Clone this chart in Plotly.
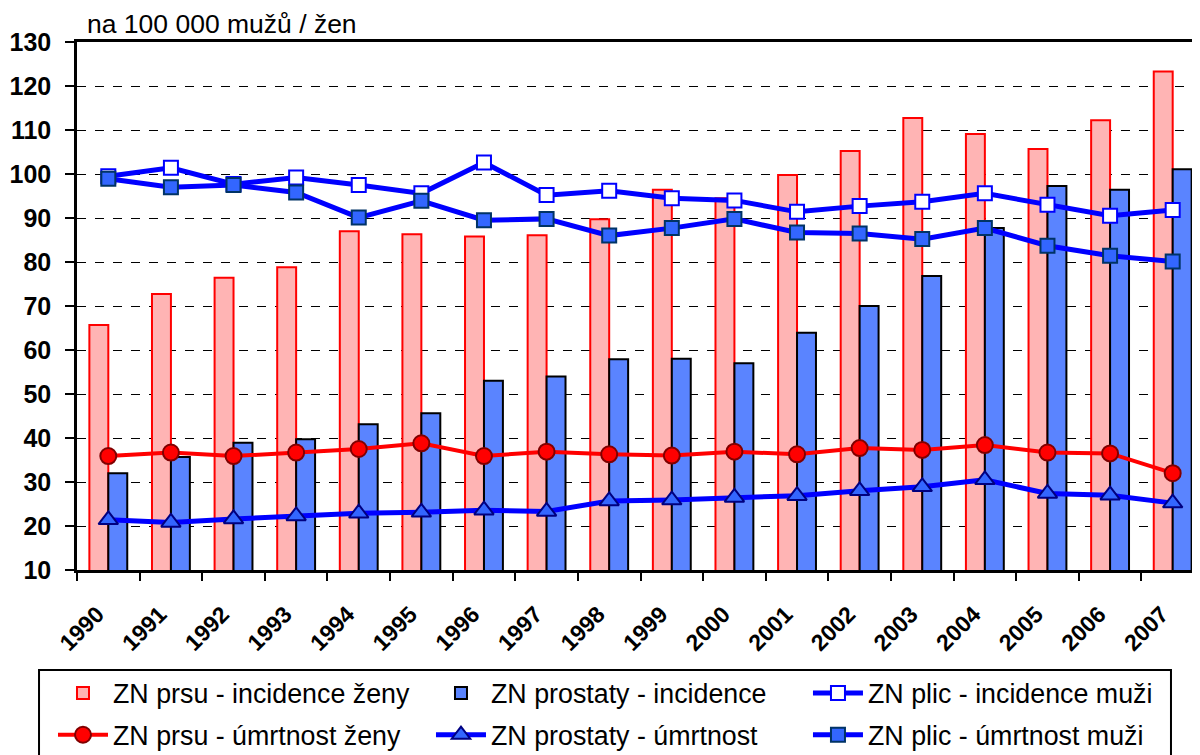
import plotly.graph_objects as go

years = [str(y) for y in range(1990, 2008)]
breast_inc = [65.7, 72.7, 76.4, 78.8, 87.0, 86.3, 85.8, 86.1, 89.7, 96.4, 94.5, 99.8, 105.2, 112.7, 109.1, 105.7, 112.2, 123.3]
prostate_inc = [32.0, 35.7, 38.9, 39.7, 43.1, 45.6, 53.0, 54.0, 57.9, 58.0, 57.0, 63.9, 70.0, 76.8, 87.7, 97.3, 96.4, 101.1]
lung_inc = [99.5, 101.4, 97.7, 99.2, 97.5, 95.6, 102.6, 95.2, 96.2, 94.5, 94.0, 91.4, 92.7, 93.7, 95.6, 93.0, 90.5, 91.8]
breast_mort = [35.9, 36.7, 35.9, 36.7, 37.5, 38.8, 35.9, 36.9, 36.3, 36.0, 36.9, 36.3, 37.7, 37.3, 38.4, 36.7, 36.5, 32.0]
prostate_mort = [21.4, 20.8, 21.6, 22.3, 22.9, 23.1, 23.6, 23.3, 25.7, 25.9, 26.5, 26.9, 28.0, 28.9, 30.5, 27.4, 27.0, 25.2]
lung_mort = [98.9, 97.0, 97.5, 95.8, 90.1, 93.9, 89.5, 89.8, 86.0, 87.7, 89.8, 86.7, 86.5, 85.2, 87.7, 83.7, 81.4, 80.1]
y_ticks = list(range(10, 131, 10))

names = ["ZN prsu - incidence ženy", "ZN prostaty - incidence", "ZN plic - incidence muži",
         "ZN prsu - úmrtnost ženy", "ZN prostaty - úmrtnost", "ZN plic - úmrtnost muži"]

FONT = "Liberation Sans, Arial, sans-serif"

fig = go.Figure()
fig.add_trace(go.Bar(x=years, y=breast_inc, name=names[0], legend="legend", legendgroup="a",
                     marker=dict(color="#FFB4B4", line=dict(color="#FF0000", width=2))))
fig.add_trace(go.Bar(x=years, y=prostate_inc, name=names[1], legend="legend2", legendgroup="a",
                     marker=dict(color="#5A84FF", line=dict(color="#000000", width=2))))
fig.add_trace(go.Scatter(x=years, y=lung_inc, name=names[2], mode="lines+markers", legend="legend3", legendgroup="a",
                         line=dict(color="#0000FF", width=5),
                         marker=dict(symbol="square", size=14, color="#FFFFFF", line=dict(color="#0000FF", width=2))))
fig.add_trace(go.Scatter(x=years, y=breast_mort, name=names[3], mode="lines+markers", legend="legend", legendgroup="b",
                         line=dict(color="#FF0000", width=4),
                         marker=dict(symbol="circle", size=16, color="#FF0000", line=dict(color="#800000", width=2))))
fig.add_trace(go.Scatter(x=years, y=prostate_mort, name=names[4], mode="lines+markers", legend="legend2", legendgroup="b",
                         line=dict(color="#0000FF", width=5),
                         marker=dict(symbol="triangle-up", size=17, color="#3366FF", line=dict(color="#000080", width=2))))
fig.add_trace(go.Scatter(x=years, y=lung_mort, name=names[5], mode="lines+markers", legend="legend3", legendgroup="b",
                         line=dict(color="#0000FF", width=5),
                         marker=dict(symbol="square", size=14, color="#3366FF", line=dict(color="#003366", width=2))))

leg_common = dict(font=dict(family=FONT, size=26.8, color="#000000"), bgcolor="rgba(0,0,0,0)",
                  borderwidth=0, orientation="v", yanchor="top", xanchor="left",
                  tracegroupgap=4, itemwidth=50)

fig.update_layout(
    width=1200, height=755,
    margin=dict(l=69, r=4, t=34, b=193, autoexpand=False),
    paper_bgcolor="white", plot_bgcolor="white",
    barmode="group", bargap=0.395, bargroupgap=0,
    font=dict(family=FONT, color="#000000"),
    legend=dict(x=-0.0213, y=-0.1875, **leg_common),
    legend2=dict(x=0.3141, y=-0.1875, **leg_common),
    legend3=dict(x=0.6486, y=-0.1875, **leg_common),
    xaxis=dict(type="category", range=[-0.5, 17.5], showline=True, linecolor="#000000", linewidth=2.5,
               mirror=True, ticks="outside", tickson="boundaries", ticklen=8, tickwidth=2,
               tickcolor="#000000", showgrid=False,
               tickangle=-45, ticklabelshift=-11, ticklabelstandoff=19,
               tickfont=dict(family=FONT, size=23, color="#000000", weight="bold")),
    yaxis=dict(range=[10, 130], tickvals=y_ticks, showline=True, linecolor="#000000",
               linewidth=2.5, ticks="outside", ticklen=9, tickwidth=2, tickcolor="#000000",
               ticklabelstandoff=9,
               tickfont=dict(family=FONT, size=25, color="#000000", weight="bold"),
               showgrid=True, gridcolor="#000000", gridwidth=1, griddash="dash", zeroline=False),
    shapes=[dict(type="rect", xref="paper", yref="paper", x0=-0.0337, x1=0.9707, y0=-0.1894, y1=-0.40,
                 line=dict(color="#000000", width=2), fillcolor="rgba(0,0,0,0)", layer="below")],
    annotations=[dict(text="na 100 000 mužů / žen", xref="paper", yref="paper", x=0.0072, y=1.0,
                      xanchor="left", yanchor="bottom", showarrow=False, yshift=1,
                      font=dict(family=FONT, size=26.5, color="#000000"))],
)

fig.write_html("out.html")
